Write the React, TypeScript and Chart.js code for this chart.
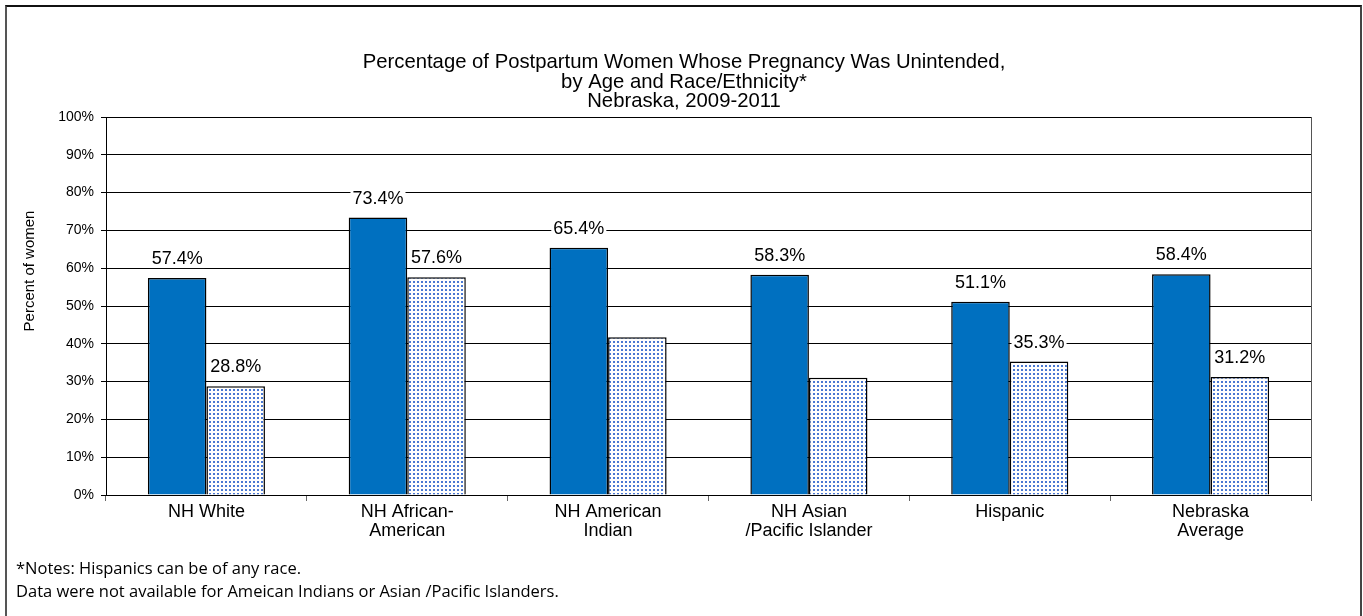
import React, { useEffect, useRef } from "react";
import { Chart, registerables } from "chart.js";

Chart.register(...registerables);

const titleLines = [
  "Percentage of Postpartum Women Whose Pregnancy Was Unintended,",
  "by Age and Race/Ethnicity*",
  "Nebraska, 2009-2011",
];
const categories = [
  ["NH White"],
  ["NH African-", "American"],
  ["NH American", "Indian"],
  ["NH Asian", "/Pacific Islander"],
  ["Hispanic"],
  ["Nebraska", "Average"],
];
const solidSeries = [57.4, 73.4, 65.4, 58.3, 51.1, 58.4];
const dottedSeries = [28.8, 57.6, 41.7, 31.0, 35.3, 31.2];
const solidLabelShown = [true, true, true, true, true, true];
const dottedLabelShown = [true, true, false, false, true, true];
const yAxisTitle = "Percent of women";
const notes = [
  "*Notes: Hispanics can be of any race.",
  "Data were not available for Ameican Indians or Asian /Pacific Islanders.",
];

const FONT = '"Liberation Sans", Arial, sans-serif';

function makePattern(): CanvasPattern | string {
  const tile = document.createElement("canvas");
  tile.width = 4;
  tile.height = 4;
  const t = tile.getContext("2d");
  if (!t) return "#9fb5e6";
  t.fillStyle = "#ffffff";
  t.fillRect(0, 0, 4, 4);
  t.fillStyle = "#4a78d2";
  t.fillRect(1, 1, 2, 2);
  const p = t.createPattern(tile, "repeat");
  return p || "#9fb5e6";
}

export default function App() {
  const canvasRef = useRef<HTMLCanvasElement | null>(null);

  useEffect(() => {
    const canvas = canvasRef.current;
    if (!canvas) return;
    const pattern = makePattern();
    const shownFlags = [solidLabelShown, dottedLabelShown];

    const textPlugin = {
      id: "manualTexts",
      afterDraw(chart: any) {
        const ctx = chart.ctx;
        ctx.save();
        ctx.font = `20.3px ${FONT}`;
        ctx.fillStyle = "#000";
        ctx.textAlign = "center";
        ctx.textBaseline = "middle";
        const ys = [62, 82, 101];
        titleLines.forEach((line, i) => ctx.fillText(line, 684, ys[i]));
        ctx.translate(30, 271);
        ctx.rotate(-Math.PI / 2);
        ctx.font = `15px ${FONT}`;
        ctx.fillText(yAxisTitle, 0, 0);
        ctx.restore();
      },
    };

    const labelPlugin = {
      id: "valueLabels",
      afterDatasetsDraw(chart: any) {
        const ctx = chart.ctx;
        ctx.save();
        ctx.font = `18px ${FONT}`;
        ctx.textAlign = "center";
        ctx.textBaseline = "middle";
        chart.data.datasets.forEach((ds: any, di: number) => {
          const meta = chart.getDatasetMeta(di);
          meta.data.forEach((bar: any, i: number) => {
            if (!shownFlags[di][i]) return;
            const text = Number(ds.data[i]).toFixed(1) + "%";
            const y = bar.y - 20;
            const w = ctx.measureText(text).width;
            ctx.fillStyle = "#fff";
            ctx.fillRect(bar.x - w / 2 - 2, y - 10, w + 4, 20);
            ctx.fillStyle = "#000";
            ctx.fillText(text, bar.x, y + 1);
          });
        });
        ctx.restore();
      },
    };

    const borderPlugin = {
      id: "plotBorder",
      afterDraw(chart: any) {
        const { ctx, chartArea } = chart;
        ctx.save();
        ctx.strokeStyle = "#555";
        ctx.lineWidth = 1;
        ctx.beginPath();
        const x = Math.round(chartArea.right) + 0.5;
        ctx.moveTo(x, chartArea.top);
        ctx.lineTo(x, chartArea.bottom + 6);
        ctx.stroke();
        ctx.restore();
      },
    };

    const chart = new Chart(canvas, {
      type: "bar",
      data: {
        labels: categories,
        datasets: [
          {
            label: "Solid",
            data: solidSeries,
            backgroundColor: "#0070c0",
            borderColor: "#000",
            borderWidth: 1.5,
            categoryPercentage: 0.583,
            barPercentage: 1.0,
          },
          {
            label: "Dotted",
            data: dottedSeries,
            backgroundColor: pattern as any,
            borderColor: "#000",
            borderWidth: 1.5,
            categoryPercentage: 0.583,
            barPercentage: 1.0,
          },
        ],
      },
      options: {
        animation: false,
        responsive: false,
        devicePixelRatio: 1,
        layout: { padding: { top: 117, right: 52, bottom: 0, left: 0 } },
        plugins: {
          legend: { display: false },
          title: { display: false },
          tooltip: { enabled: false },
        },
        scales: {
          x: {
            grid: {
              display: true,
              drawOnChartArea: false,
              drawTicks: true,
              tickLength: 6,
              color: "#666",
              offset: true,
            },
            border: { display: true, color: "#000", width: 1 },
            ticks: {
              color: "#000",
              font: { family: FONT, size: 18, lineHeight: 1.03 },
              padding: 2,
              maxRotation: 0,
              autoSkip: false,
            },
            afterFit: (s: any) => {
              s.height = 121;
            },
          },
          y: {
            min: 0,
            max: 100,
            grid: {
              color: "#000",
              lineWidth: 1,
              drawTicks: true,
              tickLength: 5,
            },
            border: { display: true, color: "#000", width: 1 },
            ticks: {
              stepSize: 10,
              color: "#000",
              font: { family: FONT, size: 14 },
              padding: 7,
              callback: (v: any) => `${v}%`,
            },
            afterFit: (s: any) => {
              s.width = 106;
            },
          },
        },
      },
      plugins: [textPlugin, labelPlugin, borderPlugin],
    });

    return () => chart.destroy();
  }, []);

  return (
    <div
      style={{
        position: "fixed",
        left: 0,
        top: 0,
        width: 1363,
        height: 616,
        background: "#fff",
        overflow: "hidden",
      }}
    >
      <div
        style={{
          position: "absolute",
          left: 5,
          top: 5,
          width: 1353,
          height: 700,
          borderTop: "2px solid #111",
          borderLeft: "2px solid #555",
          borderRight: "2px solid #444",
        }}
      />
      <canvas
        ref={canvasRef}
        width={1363}
        height={616}
        style={{ position: "absolute", left: 0, top: 0, width: 1363, height: 616 }}
      />
      <div
        style={{
          position: "absolute",
          left: 16,
          top: 556,
          fontFamily: "'Open Sans', Lato, sans-serif",
          fontSize: 16.5,
          lineHeight: "23px",
          color: "#000",
          whiteSpace: "nowrap",
        }}
      >
        {notes.map((n, i) => (
          <div key={i}>{n}</div>
        ))}
      </div>
    </div>
  );
}
